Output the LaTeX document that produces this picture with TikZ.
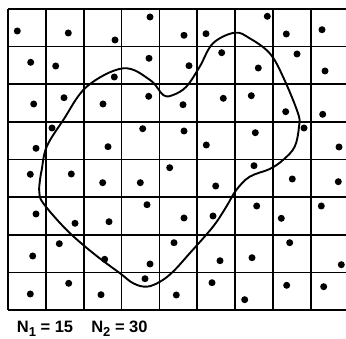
\documentclass[tikz,border=0pt]{standalone}
\usepackage{fontspec}
\setsansfont{Liberation Sans}
\usepackage{tikz}
\newcommand{\Nsub}[1]{N\raisebox{-0.45ex}{\fontsize{13}{13}\selectfont #1}}

\begin{document}
\begin{tikzpicture}[x=1pt, y=-1pt, line width=1.7pt]
\useasboundingbox (0,0) rectangle (346,339);

% 格子
\foreach \i in {0,...,8} {
  \draw (8+37.84*\i,9) -- (8+37.84*\i,310);
  \draw (8,9+37.625*\i) -- (346,9+37.625*\i);
}

% 点
\foreach \p in {(17.3,31),(68.3,33),(115,40),(150,17),(184,35.3),(206,33.7),(267.3,16.3),(286.3,34),(322,29.7),
  (30.7,62.3),(55.7,66),(114.3,77),(149,58.3),(189,65.7),(221.7,52.7),(258.3,68),(297,54),(325,71),
  (33.7,104),(64,97.7),(103,104),(148.7,96.3),(183,104.7),(223.3,98.3),(251.3,95.7),(285.7,111.7),(322.7,114.3),
  (36,148.3),(52,128),(108,146.7),(142.7,128.7),(184,131),(206.3,145),(255.3,132.7),(304,128),(339,147),
  (30.3,174.3),(71.3,174),(102.7,182.7),(140.3,182.7),(169.7,167.7),(215.7,186),(254,165.7),(292.3,179),(338.3,181.7),
  (36,214),(75,223.3),(109,221.7),(147,204.7),(184,218),(213,216),(256.7,206),(281.3,218.3),(321.3,206),
  (32.7,256),(59.3,243.7),(104.7,259.3),(150,264),(174,242.7),(220,260.7),(252,257.7),(289.7,242.7),(341.3,264.7),
  (30.3,294),(68.7,283.3),(101,294.7),(145,278.7),(176.3,295),(212,282.7),(244.7,299.7),(286.7,285.3),(323.7,286.7)}
  \fill \p circle (3.5pt);

% 曲線
\draw[line width=1.9pt] plot[smooth cycle, tension=0.6] coordinates {
  (41.7,170) (46.7,146.7) (63.3,120) (86.7,86.7) (123.3,68.3) (150,80) (163.3,95) (173,95)
  (186.3,86.7) (199.7,66.7) (213,43.3) (234.7,32.7) (249.7,38.3) (269.7,53.3) (283,76.7)
  (298,113.3) (299,126.7) (294.7,146.7) (283,160) (269.7,169) (249.7,176.7) (236.3,190)
  (226.3,206.7) (213,226.7) (189.7,253.3) (173,271.7) (160,281.7) (146.7,286.7) (133.3,283.3)
  (120,273.3) (93.3,253.3) (66.7,230) (43.3,203.3) (39.3,192) (40,180)};

% 個数
\node[anchor=base west, inner sep=0pt, font=\sffamily\bfseries\fontsize{16.5}{17}\selectfont] (cnt) at (16,333)
  {\Nsub{1} = 15\hspace{1.1em}\Nsub{2} = 30};
\end{tikzpicture}
\end{document}
